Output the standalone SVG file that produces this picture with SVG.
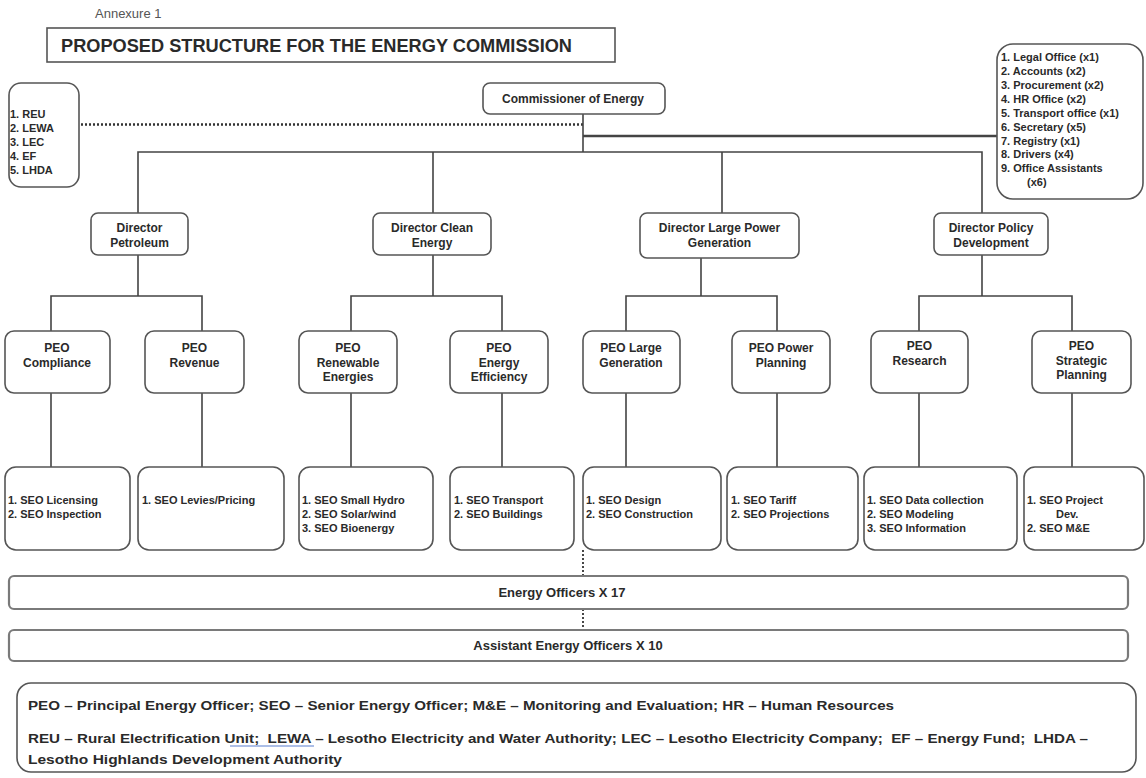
<svg xmlns="http://www.w3.org/2000/svg" width="1146" height="778" viewBox="0 0 1146 778">
<style>
.box{fill:#fff;stroke:#555;stroke-width:1.6}
.bar{fill:#fff;stroke:#7a7a7a;stroke-width:2.2}
.t{font-family:"Liberation Sans",Arial,sans-serif;font-weight:bold;fill:#2a2a2a;font-size:11px}
.m{text-anchor:middle}
.d{font-size:12px}
.ln{stroke:#444;stroke-width:1.6;fill:none}
.thick{stroke:#444;stroke-width:2.6;fill:none}
.dot{stroke:#333;stroke-width:2.6;stroke-dasharray:2 2;fill:none}
.vdot{stroke:#333;stroke-width:1.8;stroke-dasharray:2 2;fill:none}
</style>
<rect width="1146" height="778" fill="#fff"/>
<text x="95" y="18" font-family="Liberation Sans,Arial,sans-serif" font-size="13" fill="#555">Annexure 1</text>
<g id="title">
<rect x="47" y="28" width="568" height="34" fill="#fff" stroke="#555" stroke-width="1.6"/>
<text x="61" y="52" class="t" style="font-size:18.5px" textLength="511" lengthAdjust="spacingAndGlyphs">PROPOSED STRUCTURE FOR THE ENERGY COMMISSION</text>
</g>
<g id="connectors">
<path class="dot" d="M81 124.5H583"/>
<path class="ln" d="M583 114V152"/>
<path class="thick" d="M583 136H997"/>
<path class="ln" d="M138 213V152H982V213M433 152V213M722 152V213"/>
<path class="ln" d="M138 255V296M51 331V296H202V331"/>
<path class="ln" d="M433 255V296M351 331V296H502V331"/>
<path class="ln" d="M701 258V296M626 331V296H777V331"/>
<path class="ln" d="M982 255V296M919 331V296H1072V331"/>
<path class="ln" d="M51 393V467M202 393V467M351 393V467M502 393V467M626 393V467M777 393V467M919 393V467M1072 393V467"/>
<path class="vdot" d="M583 550V576M583 609V630"/>
</g>
<g id="agencies">
<rect class="box" x="9" y="83" width="70" height="104" rx="12"/>
<text class="t" x="10"><tspan x="10" y="118">1. REU</tspan><tspan x="10" y="132">2. LEWA</tspan><tspan x="10" y="146">3. LEC</tspan><tspan x="10" y="160">4. EF</tspan><tspan x="10" y="174">5. LHDA</tspan></text>
</g>
<g id="commissioner">
<rect class="box" x="483" y="83" width="182" height="31" rx="7"/>
<text class="t d m" x="573" y="103">Commissioner of Energy</text>
</g>
<g id="support">
<rect class="box" x="997" y="44" width="146" height="155" rx="16"/>
<text class="t"><tspan x="1001" y="61">1. Legal Office (x1)</tspan><tspan x="1001" y="75">2. Accounts (x2)</tspan><tspan x="1001" y="89">3. Procurement (x2)</tspan><tspan x="1001" y="103">4. HR Office (x2)</tspan><tspan x="1001" y="117">5. Transport office (x1)</tspan><tspan x="1001" y="131">6. Secretary (x5)</tspan><tspan x="1001" y="145">7. Registry (x1)</tspan><tspan x="1001" y="158">8. Drivers (x4)</tspan><tspan x="1001" y="172">9. Office Assistants</tspan><tspan x="1027" y="186">(x6)</tspan></text>
</g>
<g id="dir-petroleum">
<rect class="box" x="91" y="213" width="97" height="42" rx="7"/>
<text class="t d m"><tspan x="139.5" y="232">Director</tspan><tspan x="139.5" y="247">Petroleum</tspan></text>
</g>
<g id="dir-clean">
<rect class="box" x="373" y="213" width="118" height="42" rx="7"/>
<text class="t d m"><tspan x="432" y="232">Director Clean</tspan><tspan x="432" y="247">Energy</tspan></text>
</g>
<g id="dir-large">
<rect class="box" x="640" y="213" width="159" height="45" rx="7"/>
<text class="t d m"><tspan x="719.5" y="232">Director Large Power</tspan><tspan x="719.5" y="247">Generation</tspan></text>
</g>
<g id="dir-policy">
<rect class="box" x="934" y="213" width="114" height="42" rx="7"/>
<text class="t d m"><tspan x="991" y="232">Director Policy</tspan><tspan x="991" y="247">Development</tspan></text>
</g>
<g id="peo-compliance">
<rect class="box" x="5" y="331" width="105" height="62" rx="9"/>
<text class="t d m"><tspan x="57" y="352">PEO</tspan><tspan x="57" y="367">Compliance</tspan></text>
</g>
<g id="peo-revenue">
<rect class="box" x="145" y="331" width="99" height="62" rx="9"/>
<text class="t d m"><tspan x="194.5" y="352">PEO</tspan><tspan x="194.5" y="367">Revenue</tspan></text>
</g>
<g id="peo-renewable">
<rect class="box" x="299" y="331" width="98" height="62" rx="9"/>
<text class="t d m"><tspan x="348" y="352">PEO</tspan><tspan x="348" y="367">Renewable</tspan><tspan x="348" y="381">Energies</tspan></text>
</g>
<g id="peo-efficiency">
<rect class="box" x="450" y="331" width="98" height="62" rx="9"/>
<text class="t d m"><tspan x="499" y="352">PEO</tspan><tspan x="499" y="367">Energy</tspan><tspan x="499" y="381">Efficiency</tspan></text>
</g>
<g id="peo-large">
<rect class="box" x="583" y="331" width="97" height="62" rx="9"/>
<text class="t d m"><tspan x="631" y="352">PEO Large</tspan><tspan x="631" y="367">Generation</tspan></text>
</g>
<g id="peo-power">
<rect class="box" x="732" y="331" width="98" height="62" rx="9"/>
<text class="t d m"><tspan x="781" y="352">PEO Power</tspan><tspan x="781" y="367">Planning</tspan></text>
</g>
<g id="peo-research">
<rect class="box" x="871" y="331" width="97" height="62" rx="9"/>
<text class="t d m"><tspan x="919.5" y="350">PEO</tspan><tspan x="919.5" y="365">Research</tspan></text>
</g>
<g id="peo-strategic">
<rect class="box" x="1032" y="331" width="99" height="62" rx="9"/>
<text class="t d m"><tspan x="1081.5" y="350">PEO</tspan><tspan x="1081.5" y="365">Strategic</tspan><tspan x="1081.5" y="379">Planning</tspan></text>
</g>
<g id="seo-compliance">
<rect class="box" x="5" y="467" width="125" height="83" rx="11"/>
<text class="t"><tspan x="8" y="504">1. SEO Licensing</tspan><tspan x="8" y="518">2. SEO Inspection</tspan></text>
</g>
<g id="seo-revenue">
<rect class="box" x="138" y="467" width="146" height="83" rx="11"/>
<text class="t"><tspan x="142" y="504">1. SEO Levies/Pricing</tspan></text>
</g>
<g id="seo-renewable">
<rect class="box" x="299" y="467" width="134" height="83" rx="11"/>
<text class="t"><tspan x="302" y="504">1. SEO Small Hydro</tspan><tspan x="302" y="518">2. SEO Solar/wind</tspan><tspan x="302" y="532">3. SEO Bioenergy</tspan></text>
</g>
<g id="seo-efficiency">
<rect class="box" x="450" y="467" width="124" height="83" rx="11"/>
<text class="t"><tspan x="454" y="504">1. SEO Transport</tspan><tspan x="454" y="518">2. SEO Buildings</tspan></text>
</g>
<g id="seo-large">
<rect class="box" x="583" y="467" width="138" height="83" rx="11"/>
<text class="t"><tspan x="586" y="504">1. SEO Design</tspan><tspan x="586" y="518">2. SEO Construction</tspan></text>
</g>
<g id="seo-power">
<rect class="box" x="727" y="467" width="131" height="83" rx="11"/>
<text class="t"><tspan x="731" y="504">1. SEO Tariff</tspan><tspan x="731" y="518">2. SEO Projections</tspan></text>
</g>
<g id="seo-research">
<rect class="box" x="864" y="467" width="153" height="83" rx="11"/>
<text class="t"><tspan x="867" y="504">1. SEO Data collection</tspan><tspan x="867" y="518">2. SEO Modeling</tspan><tspan x="867" y="532">3. SEO Information</tspan></text>
</g>
<g id="seo-strategic">
<rect class="box" x="1024" y="467" width="120" height="83" rx="11"/>
<text class="t"><tspan x="1027" y="504">1. SEO Project</tspan><tspan x="1056" y="518">Dev.</tspan><tspan x="1027" y="532">2. SEO M&amp;E</tspan></text>
</g>
<g id="energy-officers">
<rect class="bar" x="9" y="576" width="1119" height="33" rx="5"/>
<text class="t m" style="font-size:13px" x="562" y="597">Energy Officers X 17</text>
</g>
<g id="assistant-officers">
<rect class="bar" x="9" y="630" width="1119" height="31" rx="5"/>
<text class="t m" style="font-size:13px" x="568" y="650">Assistant Energy Officers X 10</text>
</g>
<g id="legend">
<rect class="box" x="17" y="683" width="1119" height="89" rx="14"/>
<text class="t" style="font-size:12.5px" x="28" y="710" textLength="866" lengthAdjust="spacingAndGlyphs">PEO – Principal Energy Officer; SEO – Senior Energy Officer; M&amp;E – Monitoring and Evaluation; HR – Human Resources</text>
<text class="t" style="font-size:12.5px" x="28" y="743" textLength="1060" lengthAdjust="spacingAndGlyphs" xml:space="preserve">REU – Rural Electrification Unit;  LEWA – Lesotho Electricity and Water Authority; LEC – Lesotho Electricity Company;  EF – Energy Fund;  LHDA –</text>
<text class="t" style="font-size:12.5px" x="28" y="764" textLength="314" lengthAdjust="spacingAndGlyphs">Lesotho Highlands Development Authority</text>
<path d="M230 746H314" stroke="#5a7fd0" stroke-width="1.2" fill="none"/>
</g>
</svg>
